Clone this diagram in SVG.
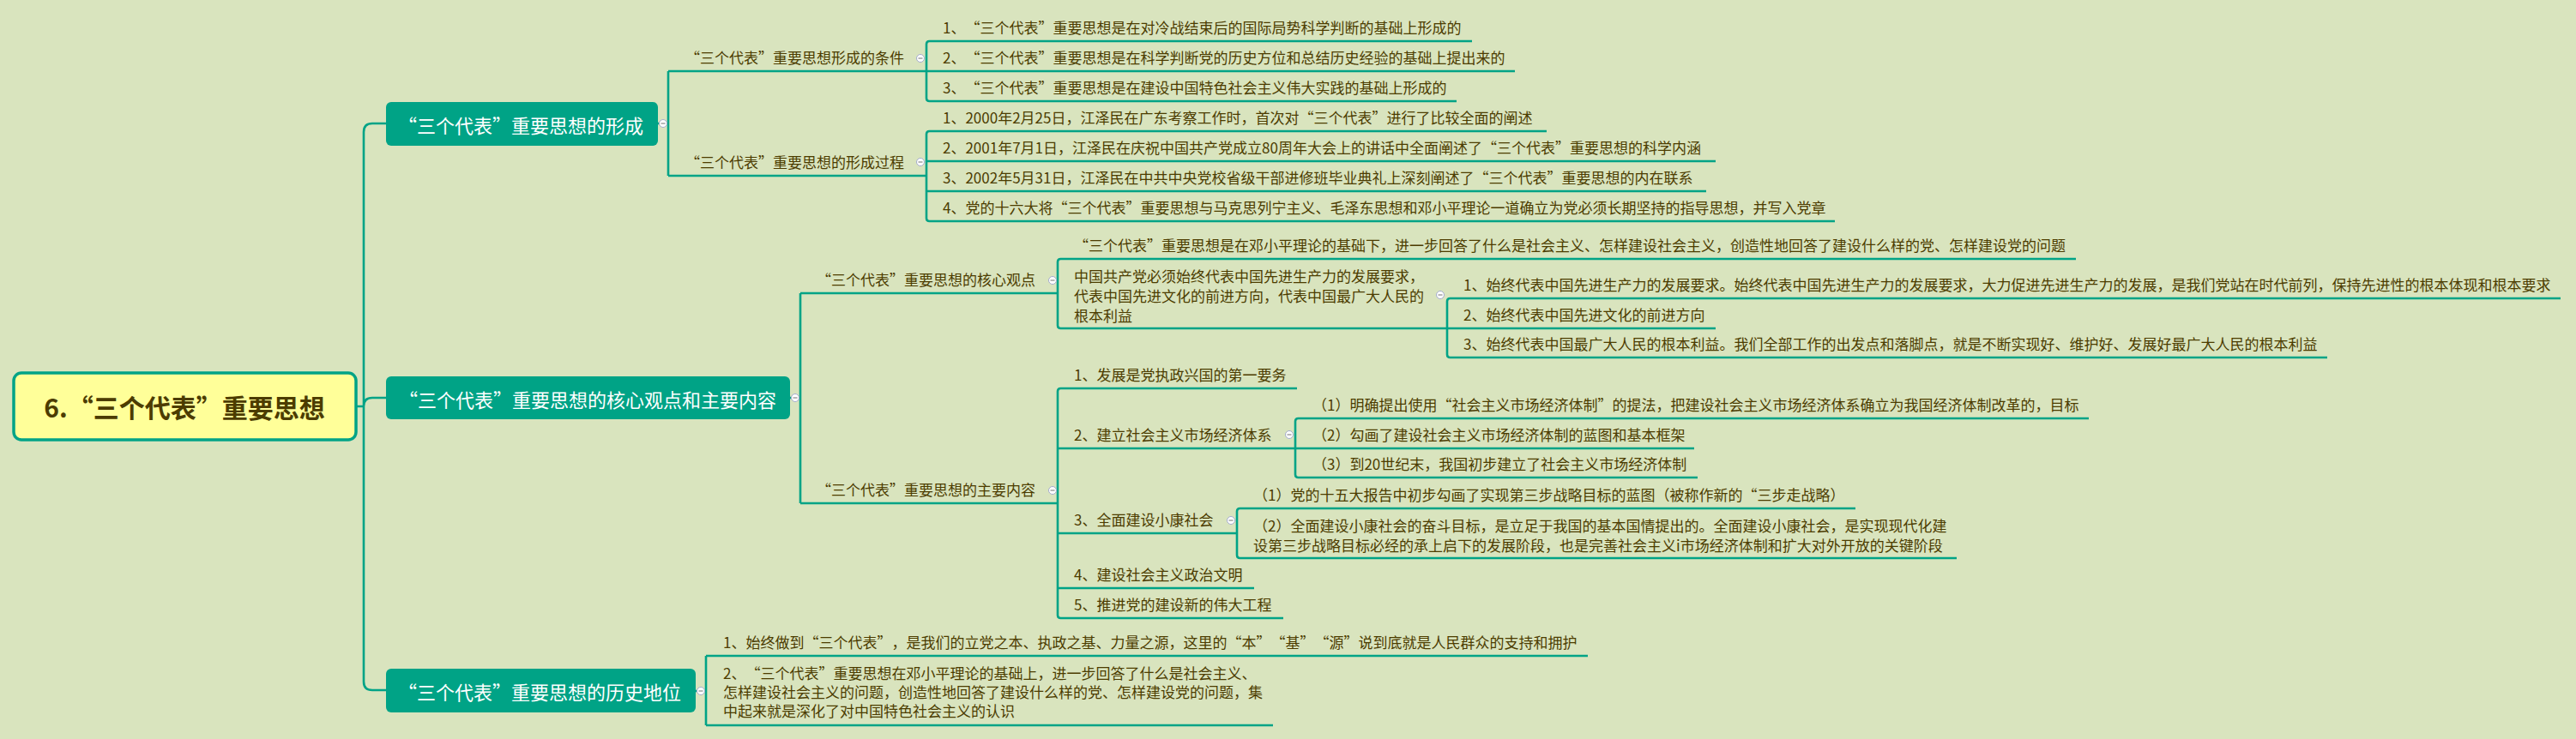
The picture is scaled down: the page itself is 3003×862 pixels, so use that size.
<svg xmlns="http://www.w3.org/2000/svg" width="3003" height="862" viewBox="0 0 3003 862">
<defs>
<style>
text{font-family:"Noto Sans CJK SC","Microsoft YaHei","Noto Sans",sans-serif;text-spacing-trim:space-all}
.t{font-size:17px;fill:#4c3c00}
.mt{font-size:22px;fill:#ffffff;text-anchor:middle}
.mr{fill:#00a386}
.ln{fill:none;stroke:#00a386;stroke-width:2.6}
.cb{fill:#ffffff;stroke:#a3abcc;stroke-width:1}
.cm{stroke:#707070;stroke-width:1}
</style>
<g id="collapse"><circle class="cb" cx="0" cy="0" r="4.5"/><line class="cm" x1="-2.5" y1="0" x2="2.5" y2="0"/></g>
</defs>
<rect width="3003" height="862" fill="#d9e4be"/>

<g id="connectors">
<path class="ln" d="M415,474 H424 M450,144 H434 Q424,144 424,154 V795 Q424,805 434,805 H450 M424,474 Q424,464 434,464 H450"/>
<path class="ln" d="M767,144 H779 M779,83 V205 M779,83 H1080 M779,205 H1080"/>
<path class="ln" d="M1080,83 V51.5 Q1080,48 1083.5,48 H1716 M1080,83 H1766 M1080,83 V114.5 Q1080,118 1083.5,118 H1698"/>
<path class="ln" d="M1080,205 V156.5 Q1080,153 1083.5,153 H1803 M1080,188 H2000 M1080,223 H1989 M1080,205 V254.5 Q1080,258 1083.5,258 H2139"/>
<path class="ln" d="M921,464 H933 M933,342 V587 M933,342 H1233 M933,587 H1233"/>
<path class="ln" d="M1233,342 V305.5 Q1233,302 1236.5,302 H2420 M1233,342 V379.5 Q1233,383 1236.5,383 H1687"/>
<path class="ln" d="M1687,383 V351.5 Q1687,348 1690.5,348 H2985 M1687,383 H2000 M1687,383 V413.5 Q1687,417 1690.5,417 H2713"/>
<path class="ln" d="M1512,453 H1236.5 Q1233,453 1233,456.5 V717.5 Q1233,721 1236.5,721 H1496 M1233,523 H1510 M1233,622 H1442 M1233,686 H1462"/>
<path class="ln" d="M1510,523 V491.5 Q1510,488 1513.5,488 H2435 M1510,523 H1975 M1510,523 V553.5 Q1510,557 1513.5,557 H1979"/>
<path class="ln" d="M1442,622 V596.5 Q1442,593 1445.5,593 H2163 M1442,622 V647.5 Q1442,651 1445.5,651 H2281"/>
<path class="ln" d="M811,806 H823 M823,765 V846 M823,765 H1851 M823,846 H1484"/>
</g>

<g id="root">
<rect x="16" y="435" width="399" height="78" rx="9" fill="#ffff99" stroke="#00a386" stroke-width="3.5"/>
<text x="215" y="487" font-size="30" font-weight="bold" fill="#4c3c00" text-anchor="middle">6.“三个代表”重要思想</text>
</g>

<g id="branch1">
<rect class="mr" x="450" y="119" width="317" height="51" rx="6"/>
<text class="mt" x="607" y="155">“三个代表”重要思想的形成</text>
<use href="#collapse" x="773" y="144"/>
</g>
<g id="branch2">
<rect class="mr" x="450" y="439" width="471" height="50" rx="6"/>
<text class="mt" x="685" y="475">“三个代表”重要思想的核心观点和主要内容</text>
<use href="#collapse" x="927" y="464"/>
</g>
<g id="branch3">
<rect class="mr" x="450" y="780" width="361" height="51" rx="6"/>
<text class="mt" x="629" y="816">“三个代表”重要思想的历史地位</text>
<use href="#collapse" x="817" y="806"/>
</g>

<g id="cond">
<text class="t" x="799" y="74">“三个代表”重要思想形成的条件</text>
<use href="#collapse" x="1073" y="68"/>
</g>
<g id="cond-1"><text class="t" x="1099" y="39">1、“三个代表”重要思想是在对冷战结束后的国际局势科学判断的基础上形成的</text></g>
<g id="cond-2"><text class="t" x="1099" y="74">2、“三个代表”重要思想是在科学判断党的历史方位和总结历史经验的基础上提出来的</text></g>
<g id="cond-3"><text class="t" x="1099" y="109">3、“三个代表”重要思想是在建设中国特色社会主义伟大实践的基础上形成的</text></g>

<g id="proc">
<text class="t" x="799" y="196">“三个代表”重要思想的形成过程</text>
<use href="#collapse" x="1073" y="189"/>
</g>
<g id="proc-1"><text class="t" x="1099" y="144">1、2000年2月25日，江泽民在广东考察工作时，首次对“三个代表”进行了比较全面的阐述</text></g>
<g id="proc-2"><text class="t" x="1099" y="179">2、2001年7月1日，江泽民在庆祝中国共产党成立80周年大会上的讲话中全面阐述了“三个代表”重要思想的科学内涵</text></g>
<g id="proc-3"><text class="t" x="1099" y="214">3、2002年5月31日，江泽民在中共中央党校省级干部进修班毕业典礼上深刻阐述了“三个代表”重要思想的内在联系</text></g>
<g id="proc-4"><text class="t" x="1099" y="249">4、党的十六大将“三个代表”重要思想与马克思列宁主义、毛泽东思想和邓小平理论一道确立为党必须长期坚持的指导思想，并写入党章</text></g>

<g id="core">
<text class="t" x="952" y="333">“三个代表”重要思想的核心观点</text>
<use href="#collapse" x="1227" y="327"/>
</g>
<g id="core-1"><text class="t" x="1252" y="293">“三个代表”重要思想是在邓小平理论的基础下，进一步回答了什么是社会主义、怎样建设社会主义，创造性地回答了建设什么样的党、怎样建设党的问题</text></g>
<g id="core-2">
<text class="t" x="1252" y="329">中国共产党必须始终代表中国先进生产力的发展要求，</text>
<text class="t" x="1252" y="352">代表中国先进文化的前进方向，代表中国最广大人民的</text>
<text class="t" x="1252" y="375">根本利益</text>
<use href="#collapse" x="1679" y="344"/>
</g>
<g id="core-2-1"><text class="t" x="1706" y="339">1、始终代表中国先进生产力的发展要求。始终代表中国先进生产力的发展要求，大力促进先进生产力的发展，是我们党站在时代前列，保持先进性的根本体现和根本要求</text></g>
<g id="core-2-2"><text class="t" x="1706" y="374">2、始终代表中国先进文化的前进方向</text></g>
<g id="core-2-3"><text class="t" x="1706" y="408">3、始终代表中国最广大人民的根本利益。我们全部工作的出发点和落脚点，就是不断实现好、维护好、发展好最广大人民的根本利益</text></g>

<g id="main">
<text class="t" x="952" y="578">“三个代表”重要思想的主要内容</text>
<use href="#collapse" x="1227" y="572"/>
</g>
<g id="main-1"><text class="t" x="1252" y="444">1、发展是党执政兴国的第一要务</text></g>
<g id="main-2">
<text class="t" x="1252" y="514">2、建立社会主义市场经济体系</text>
<use href="#collapse" x="1503" y="507"/>
</g>
<g id="main-2-1"><text class="t" x="1530" y="479">（1）明确提出使用“社会主义市场经济体制”的提法，把建设社会主义市场经济体系确立为我国经济体制改革的，目标</text></g>
<g id="main-2-2"><text class="t" x="1530" y="514">（2）勾画了建设社会主义市场经济体制的蓝图和基本框架</text></g>
<g id="main-2-3"><text class="t" x="1530" y="548">（3）到20世纪末，我国初步建立了社会主义市场经济体制</text></g>
<g id="main-3">
<text class="t" x="1252" y="613">3、全面建设小康社会</text>
<use href="#collapse" x="1435" y="607"/>
</g>
<g id="main-3-1"><text class="t" x="1461" y="584">（1）党的十五大报告中初步勾画了实现第三步战略目标的蓝图（被称作新的“三步走战略）</text></g>
<g id="main-3-2">
<text class="t" x="1461" y="620">（2）全面建设小康社会的奋斗目标，是立足于我国的基本国情提出的。全面建设小康社会，是实现现代化建</text>
<text class="t" x="1461" y="643">设第三步战略目标必经的承上启下的发展阶段，也是完善社会主义i市场经济体制和扩大对外开放的关键阶段</text>
</g>
<g id="main-4"><text class="t" x="1252" y="677">4、建设社会主义政治文明</text></g>
<g id="main-5"><text class="t" x="1252" y="712">5、推进党的建设新的伟大工程</text></g>

<g id="hist-1"><text class="t" x="843" y="756">1、始终做到“三个代表”，是我们的立党之本、执政之基、力量之源，这里的“本”“基”“源”说到底就是人民群众的支持和拥护</text></g>
<g id="hist-2">
<text class="t" x="843" y="792">2、“三个代表”重要思想在邓小平理论的基础上，进一步回答了什么是社会主义、</text>
<text class="t" x="843" y="814">怎样建设社会主义的问题，创造性地回答了建设什么样的党、怎样建设党的问题，集</text>
<text class="t" x="843" y="836">中起来就是深化了对中国特色社会主义的认识</text>
</g>
</svg>
